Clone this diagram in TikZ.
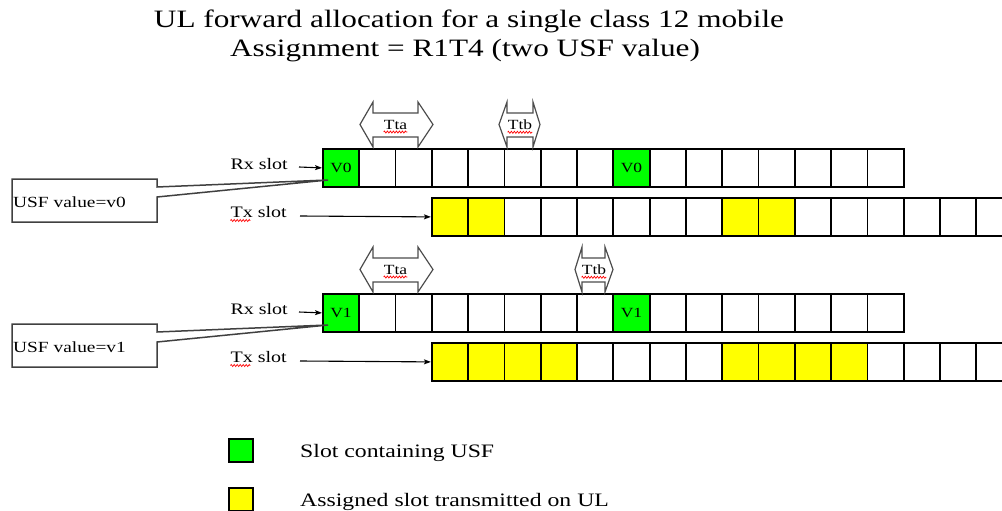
\documentclass[tikz,border=0pt]{standalone}
\usepackage{fontspec}
\setmainfont{Liberation Serif}[FakeStretch=1.25]
\usetikzlibrary{arrows.meta,decorations.pathmorphing}
\definecolor{usfgreen}{RGB}{0,255,0}
\definecolor{txyellow}{RGB}{255,255,0}
\newcommand{\blockarrowshape}[6]{% xtipL, xbaseL, xbaseR, xtipR, ytop, name
  \draw[blockarr] (#1,#5+22.5) -- (#2,#5) -- (#2,#5+11) -- (#3,#5+11) -- (#3,#5)
    -- (#4,#5+22.5) -- (#3,#5+45) -- (#3,#5+35) -- (#2,#5+35) -- (#2,#5+45) -- cycle;
}
\tikzset{
  cellbox/.style={draw=black, line width=1.8pt, minimum width=36.3pt, minimum height=38pt,
    inner sep=0pt, anchor=north west},
  celltxt/.style={font=\fontsize{14}{16}\selectfont, inner sep=0pt},
  titletxt/.style={font=\fontsize{25}{30}\selectfont, inner sep=0pt, anchor=base},
  slotlbl/.style={font=\fontsize{16}{18}\selectfont, inner sep=0pt, anchor=base east},
  calltxt/.style={font=\fontsize{15.5}{18}\selectfont, inner sep=0pt, anchor=base west},
  legtxt/.style={font=\fontsize{19}{22}\selectfont, inner sep=0pt, anchor=base west},
  tlbl/.style={font=\fontsize{14}{16}\selectfont, inner sep=0pt},
  blockarr/.style={draw=black!70, line width=1.2pt, fill=white, line join=miter},
  callout/.style={draw=black!75, line width=1.5pt, line join=miter},
  slotarr/.style={draw=black, line width=1.1pt, -{Stealth[length=7pt,width=5pt,inset=1.5pt]}},
  squig/.style={draw=red, line width=0.7pt, decorate,
    decoration={zigzag, segment length=3pt, amplitude=1pt}},
  legbox/.style={draw=black, line width=1.6pt, minimum width=24pt, minimum height=23pt,
    inner sep=0pt, anchor=north west},
}
\begin{document}
\begin{tikzpicture}[x=1pt,y=-1pt]
\useasboundingbox (0,0) rectangle (1002,511);
\clip (0,0) rectangle (1002,511);

% titles
\node[titletxt] (title1) at (469,28) {UL forward allocation for a single class 12 mobile};
\node[titletxt] (title2) at (465,57) {Assignment = R1T4 (two USF value)};

% ---------- row 1 ----------
\foreach \i in {0,...,15}{
  \def\fc{white}
  \ifnum\i=0 \def\fc{usfgreen}\fi
  \ifnum\i=8 \def\fc{usfgreen}\fi
  \node[cellbox, fill=\fc] (ra\i) at ({322+\i*36.3},148) {};
}
\foreach \i in {3,...,18}{
  \def\fc{white}
  \ifnum\i<5 \def\fc{txyellow}\fi
  \ifnum\i>10 \ifnum\i<13 \def\fc{txyellow}\fi\fi
  \node[cellbox, fill=\fc] (ta\i) at ({322+\i*36.3},197) {};
}
\node[celltxt] (va0) at (ra0) {V0};
\node[celltxt] (va8) at (ra8) {V0};

\node[slotlbl] (rxl1) at (288,169) {Rx slot};
\node[slotlbl] (txl1) at (287,217) {Tx slot};
\coordinate (rxs1) at (299,167);
\coordinate (txs1) at (300,216);
\draw[slotarr] (rxs1) -- (ra0.west);
\draw[slotarr] (txs1) -- (ta3.west);
\draw[squig] ([yshift=-3.5pt]txl1.base west) -- ++(20,0);

\blockarrowshape{360}{373}{418}{433}{102}{}
\node[tlbl] (tta1) at (395.5,125) {Tta};
\blockarrowshape{499}{507}{533}{540}{102}{}
\node[tlbl] (ttb1) at (520,125) {Ttb};
\draw[squig] ([yshift=-2.5pt]tta1.base west) -- ([yshift=-2.5pt]tta1.base east);
\draw[squig] ([yshift=-2.5pt]ttb1.base west) -- ([yshift=-2.5pt]ttb1.base east);

\coordinate (tip1) at ([shift={(6,32)}]ra0.north west);
\draw[callout] (12,179) -- (157,179) -- (157,187) -- (tip1) -- (157,197) -- (157,222) -- (12,222) -- cycle;
\node[calltxt] (cb1) at (13,207) {USF value=v0};

% ---------- row 2 ----------
\foreach \i in {0,...,15}{
  \def\fc{white}
  \ifnum\i=0 \def\fc{usfgreen}\fi
  \ifnum\i=8 \def\fc{usfgreen}\fi
  \node[cellbox, fill=\fc] (rb\i) at ({322+\i*36.3},293) {};
}
\foreach \i in {3,...,18}{
  \def\fc{white}
  \ifnum\i<7 \def\fc{txyellow}\fi
  \ifnum\i>10 \ifnum\i<15 \def\fc{txyellow}\fi\fi
  \node[cellbox, fill=\fc] (tb\i) at ({322+\i*36.3},342) {};
}
\node[celltxt] (vb0) at (rb0) {V1};
\node[celltxt] (vb8) at (rb8) {V1};

\node[slotlbl] (rxl2) at (288,314) {Rx slot};
\node[slotlbl] (txl2) at (287,362) {Tx slot};
\coordinate (rxs2) at (299,312);
\coordinate (txs2) at (300,361);
\draw[slotarr] (rxs2) -- (rb0.west);
\draw[slotarr] (txs2) -- (tb3.west);
\draw[squig] ([yshift=-3.5pt]txl2.base west) -- ++(20,0);

\blockarrowshape{360}{373}{418}{433}{247}{}
\node[tlbl] (tta2) at (395.5,270) {Tta};
\blockarrowshape{575}{582}{605}{613}{247}{}
\node[tlbl] (ttb2) at (594,270) {Ttb};
\draw[squig] ([yshift=-2.5pt]tta2.base west) -- ([yshift=-2.5pt]tta2.base east);
\draw[squig] ([yshift=-2.5pt]ttb2.base west) -- ([yshift=-2.5pt]ttb2.base east);

\coordinate (tip2) at ([shift={(6,32)}]rb0.north west);
\draw[callout] (12,324) -- (157,324) -- (157,332) -- (tip2) -- (157,342) -- (157,367) -- (12,367) -- cycle;
\node[calltxt] (cb2) at (13,352) {USF value=v1};

% ---------- legend ----------
\node[legbox, fill=usfgreen] (leg1) at (228,438) {};
\node[legbox, fill=txyellow] (leg2) at (228,487) {};
\node[legtxt] (legt1) at (300,457) {Slot containing USF};
\node[legtxt] (legt2) at (300,506) {Assigned slot transmitted on UL};
\end{tikzpicture}
\end{document}
